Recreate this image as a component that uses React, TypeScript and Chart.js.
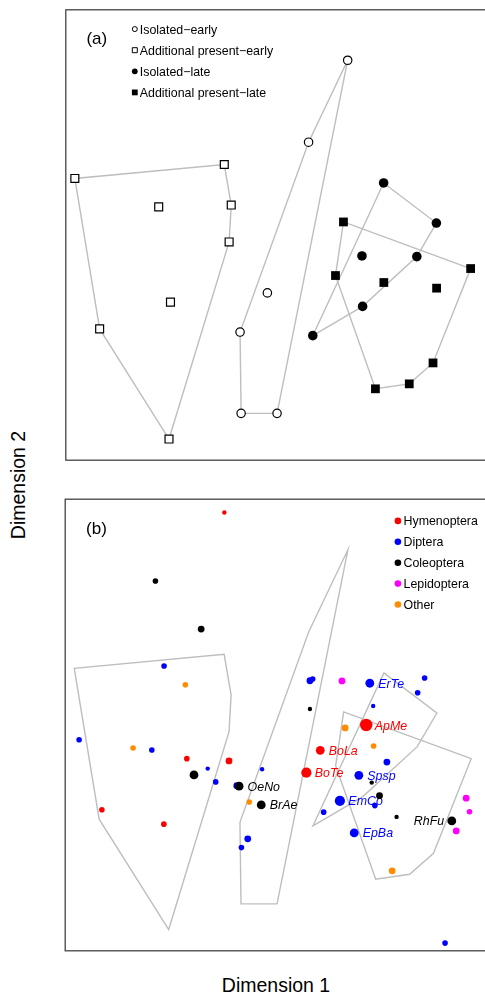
import React, { useEffect, useRef } from "react";
import { Chart, registerables } from "chart.js";

Chart.register(...registerables);

// ---------- axis range (both panels share the same ordination space) ----------
const AXIS_MIN = -1;
const AXIS_MAX = 1;

// ---------- panel (a): plant groups ----------
const groupLabels = [
  "Isolated\u2212early",
  "Additional present\u2212early",
  "Isolated\u2212late",
  "Additional present\u2212late",
];
const isolatedEarlyX = [0.341, 0.155, -0.041, -0.171, -0.166, 0.005];
const isolatedEarlyY = [0.776, 0.412, -0.257, -0.431, -0.792, -0.792];
const addEarlyX = [-0.957, -0.246, -0.213, -0.223, -0.558, -0.502, -0.839, -0.509];
const addEarlyY = [0.251, 0.313, 0.133, -0.031, 0.125, -0.298, -0.417, -0.906];
const isolatedLateX = [0.512, 0.763, 0.409, 0.67, 0.412, 0.175];
const isolatedLateY = [0.231, 0.053, -0.093, -0.096, -0.317, -0.447];
const addLateX = [0.321, 0.926, 0.283, 0.513, 0.764, 0.747, 0.634, 0.473];
const addLateY = [0.058, -0.149, -0.18, -0.211, -0.236, -0.568, -0.661, -0.683];

// ---------- panel (b): insect species by order ----------
const orderNames = ["Hymenoptera", "Diptera", "Coleoptera", "Lepidoptera", "Other"];

const hymX = [-0.245, -0.423, -0.223, -0.826, -0.532, 0.428, 0.21, 0.144];
const hymY = [0.941, -0.149, -0.159, -0.375, -0.439, 0.0, -0.112, -0.211];
const hymAbund = [1, 2, 3, 2, 2, 6, 4, 5];
const hymLabel = ["", "", "", "", "", "ApMe", "BoLa", "BoTe"];

const dipX = [-0.531, -0.934, -0.589, -0.324, -0.286, -0.186, -0.066, 0.161, 0.174, 0.445, 0.705,
  0.672, 0.461, 0.526, 0.393, 0.303, 0.469, 0.226, 0.371, -0.134, -0.164, 0.802];
const dipY = [0.261, -0.065, -0.111, -0.193, -0.252, -0.269, -0.196, 0.196, 0.204, 0.185, 0.208,
  0.143, 0.084, -0.164, -0.223, -0.336, -0.357, -0.386, -0.478, -0.504, -0.543, -0.966];
const dipAbund = [2, 2, 2, 1, 2, 3, 1, 3, 2, 4, 2, 2, 1, 3, 4, 5, 2, 2, 4, 3, 2, 2];
const dipLabel = ["", "", "", "", "", "", "", "", "", "ErTe", "", "", "", "", "Spsp", "EmCo", "", "",
  "EpBa", "", "", ""];

const colX = [-0.572, -0.355, -0.389, -0.175, -0.07, 0.161, 0.454, 0.491, 0.572, 0.834];
const colY = [0.638, 0.425, -0.221, -0.271, -0.354, 0.071, -0.255, -0.313, -0.407, -0.425];
const colAbund = [2, 3, 4, 4, 4, 1, 1, 3, 1, 4];
const colLabel = ["", "", "", "OeNo", "BrAe", "", "", "", "", "RhFu"];

const lepX = [0.313, 0.902, 0.918, 0.855];
const lepY = [0.195, -0.324, -0.384, -0.469];
const lepAbund = [3, 3, 2, 3];
const lepLabel = ["", "", "", ""];

const othX = [-0.43, -0.678, 0.328, 0.463, -0.127, 0.551];
const othY = [0.178, -0.102, -0.013, -0.093, -0.341, -0.646];
const othAbund = [2, 2, 3, 2, 2, 3];
const othLabel = ["", "", "", "", "", ""];

// ---------- styles ----------
const FONT = '"Liberation Sans", Arial, Helvetica, sans-serif';
const ORDER_COLORS = ["#FF0000", "#0000FF", "#000000", "#FF00FF", "#FF8C00"];
const RADIUS_BY_ABUND = [0, 2.2, 2.8, 3.4, 4.4, 5.1, 6.2];
const LEFT_LABELS = new Set(["RhFu"]);
const HULL_COLOR = "#BEBEBE";
const FRAME_COLOR = "#444444";

const PAD = 6;
const PLOT_LEFT = 65;
const PLOT_W = 422;
const PLOT_H = 452;
const TOP_A = 9;
const TOP_B = 499;

type Pt = { x: number; y: number };

function zip(xs: number[], ys: number[]): Pt[] {
  return xs.map((x, i) => ({ x, y: ys[i] }));
}

function convexHull(points: Pt[]): Pt[] {
  const p = [...points].sort((a, b) => (a.x === b.x ? a.y - b.y : a.x - b.x));
  const cross = (o: Pt, a: Pt, b: Pt) => (a.x - o.x) * (b.y - o.y) - (a.y - o.y) * (b.x - o.x);
  const lower: Pt[] = [];
  for (const q of p) {
    while (lower.length >= 2 && cross(lower[lower.length - 2], lower[lower.length - 1], q) <= 0) lower.pop();
    lower.push(q);
  }
  const upper: Pt[] = [];
  for (let i = p.length - 1; i >= 0; i--) {
    const q = p[i];
    while (upper.length >= 2 && cross(upper[upper.length - 2], upper[upper.length - 1], q) <= 0) upper.pop();
    upper.push(q);
  }
  upper.pop();
  lower.pop();
  return lower.concat(upper);
}

const groupPoints: Pt[][] = [
  zip(isolatedEarlyX, isolatedEarlyY),
  zip(addEarlyX, addEarlyY),
  zip(isolatedLateX, isolatedLateY),
  zip(addLateX, addLateY),
];

const orderData = [
  { x: hymX, y: hymY, a: hymAbund, l: hymLabel },
  { x: dipX, y: dipY, a: dipAbund, l: dipLabel },
  { x: colX, y: colY, a: colAbund, l: colLabel },
  { x: lepX, y: lepY, a: lepAbund, l: lepLabel },
  { x: othX, y: othY, a: othAbund, l: othLabel },
];

const framePlugin = {
  id: "frame",
  afterDraw(chart: any) {
    const { ctx, chartArea: a } = chart;
    ctx.save();
    ctx.strokeStyle = FRAME_COLOR;
    ctx.lineWidth = 1.3;
    ctx.strokeRect(a.left, a.top, a.right - a.left, a.bottom - a.top);
    ctx.restore();
  },
};

const hullPlugin = {
  id: "hulls",
  beforeDatasetsDraw(chart: any) {
    const { ctx } = chart;
    const sx = chart.scales.x;
    const sy = chart.scales.y;
    ctx.save();
    ctx.strokeStyle = HULL_COLOR;
    ctx.lineWidth = 1.4;
    ctx.lineJoin = "miter";
    for (const pts of groupPoints) {
      const h = convexHull(pts);
      ctx.beginPath();
      h.forEach((p, i) => {
        const px = sx.getPixelForValue(p.x);
        const py = sy.getPixelForValue(p.y);
        if (i === 0) ctx.moveTo(px, py);
        else ctx.lineTo(px, py);
      });
      ctx.closePath();
      ctx.stroke();
    }
    ctx.restore();
  },
};

function tagPlugin(tag: string, dx: number, baseline: number) {
  return {
    id: "tag",
    afterDraw(chart: any) {
      const { ctx, chartArea: a } = chart;
      ctx.save();
      ctx.font = `17px ${FONT}`;
      ctx.fillStyle = "#000";
      ctx.textAlign = "center";
      ctx.textBaseline = "alphabetic";
      ctx.fillText(tag, a.left + dx, a.top + baseline);
      ctx.restore();
    },
  };
}

const legendAPlugin = {
  id: "legendA",
  afterDraw(chart: any) {
    const { ctx, chartArea: a } = chart;
    ctx.save();
    ctx.font = `12.4px ${FONT}`;
    ctx.textBaseline = "alphabetic";
    ctx.textAlign = "left";
    groupLabels.forEach((t, i) => {
      const cx = a.left + 69;
      const cy = a.top + 19.3 + i * 21.1;
      ctx.lineWidth = 1;
      ctx.strokeStyle = "#000";
      ctx.fillStyle = i < 2 ? "#fff" : "#000";
      ctx.beginPath();
      if (i === 0) ctx.arc(cx, cy, 2.5, 0, Math.PI * 2);
      else if (i === 1) ctx.rect(cx - 2.5, cy - 2.5, 5, 5);
      else if (i === 2) ctx.arc(cx, cy, 2.9, 0, Math.PI * 2);
      else ctx.rect(cx - 2.9, cy - 2.9, 5.8, 5.8);
      ctx.fill();
      if (i < 2) ctx.stroke();
      ctx.fillStyle = "#000";
      ctx.fillText(t, a.left + 74, cy + 4.5);
    });
    ctx.restore();
  },
};

const legendBPlugin = {
  id: "legendB",
  afterDraw(chart: any) {
    const { ctx, chartArea: a } = chart;
    ctx.save();
    ctx.font = `12.4px ${FONT}`;
    ctx.textBaseline = "alphabetic";
    ctx.textAlign = "left";
    orderNames.forEach((t, i) => {
      const cx = a.left + 332.7;
      const cy = a.top + 21.7 + i * 20.9;
      ctx.fillStyle = ORDER_COLORS[i];
      ctx.beginPath();
      ctx.arc(cx, cy, 3.3, 0, Math.PI * 2);
      ctx.fill();
      ctx.fillStyle = "#000";
      ctx.fillText(t, a.left + 338.3, cy + 4.5);
    });
    ctx.restore();
  },
};

const speciesLabelPlugin = {
  id: "speciesLabels",
  afterDatasetDraw(chart: any, args: any) {
    const idx = args.index;
    const d = orderData[idx];
    if (!d) return;
    const { ctx } = chart;
    const sx = chart.scales.x;
    const sy = chart.scales.y;
    ctx.save();
    ctx.font = `italic 12.4px ${FONT}`;
    ctx.fillStyle = ORDER_COLORS[idx];
    ctx.textBaseline = "alphabetic";
    d.l.forEach((lab, i) => {
      if (!lab) return;
      const px = sx.getPixelForValue(d.x[i]);
      const py = sy.getPixelForValue(d.y[i]);
      if (LEFT_LABELS.has(lab)) {
        ctx.textAlign = "right";
        ctx.fillText(lab, px - 7.7, py + 4.5);
      } else {
        ctx.textAlign = "left";
        ctx.fillText(lab, px + 8.5, py + 4.5);
      }
    });
    ctx.restore();
  },
};

function baseOptions(): any {
  return {
    animation: false,
    responsive: false,
    maintainAspectRatio: false,
    devicePixelRatio: 1,
    layout: { padding: { left: PAD, right: PAD, top: PAD, bottom: PAD } },
    scales: {
      x: { type: "linear", min: AXIS_MIN, max: AXIS_MAX, display: false },
      y: { type: "linear", min: AXIS_MIN, max: AXIS_MAX, display: false },
    },
    plugins: { legend: { display: false }, tooltip: { enabled: false } },
  };
}

export default function App() {
  const refA = useRef<HTMLCanvasElement | null>(null);
  const refB = useRef<HTMLCanvasElement | null>(null);

  useEffect(() => {
    const groupStyles = [
      { style: "circle", r: 4.2, fill: "#ffffff", bw: 1.2 },
      { style: "rect", r: 5.6, fill: "#ffffff", bw: 1.2 },
      { style: "circle", r: 4.8, fill: "#000000", bw: 0 },
      { style: "rect", r: 6.2, fill: "#000000", bw: 0 },
    ];
    const chartA = new Chart(refA.current!, {
      type: "scatter",
      data: {
        datasets: groupPoints.map((pts, i) => ({
          label: groupLabels[i],
          data: pts,
          pointStyle: groupStyles[i].style,
          pointRadius: groupStyles[i].r,
          pointBackgroundColor: groupStyles[i].fill,
          pointBorderColor: "#000000",
          pointBorderWidth: groupStyles[i].bw,
          showLine: false,
          clip: false,
        })),
      } as any,
      options: baseOptions(),
      plugins: [hullPlugin, framePlugin, legendAPlugin, tagPlugin("(a)", 31, 33.7)],
    });

    const chartB = new Chart(refB.current!, {
      type: "scatter",
      data: {
        datasets: orderData.map((d, i) => ({
          label: orderNames[i],
          data: zip(d.x, d.y),
          pointStyle: "circle",
          pointRadius: d.a.map((v) => RADIUS_BY_ABUND[v]),
          pointBackgroundColor: ORDER_COLORS[i],
          pointBorderWidth: 0,
          pointBorderColor: ORDER_COLORS[i],
          showLine: false,
          clip: false,
          order: orderData.length - 1 - i,
        })),
      } as any,
      options: baseOptions(),
      plugins: [hullPlugin, speciesLabelPlugin, framePlugin, legendBPlugin, tagPlugin("(b)", 31.3, 34.6)],
    });

    return () => {
      chartA.destroy();
      chartB.destroy();
    };
  }, []);

  const cw = PLOT_W + 2 * PAD;
  const ch = PLOT_H + 2 * PAD;

  return (
    <div
      style={{
        position: "absolute",
        left: 0,
        top: 0,
        width: 485,
        height: 996,
        overflow: "hidden",
        background: "#ffffff",
        fontFamily: FONT,
      }}
    >
      <canvas
        ref={refA}
        width={cw}
        height={ch}
        style={{ position: "absolute", left: PLOT_LEFT - PAD, top: TOP_A - PAD, width: cw, height: ch }}
      />
      <canvas
        ref={refB}
        width={cw}
        height={ch}
        style={{ position: "absolute", left: PLOT_LEFT - PAD, top: TOP_B - PAD, width: cw, height: ch }}
      />
      <div
        style={{
          position: "absolute",
          left: 19.3,
          top: 485.2,
          transform: "translate(-50%, -50%) rotate(-90deg)",
          fontSize: "19.5px",
          lineHeight: "19.5px",
          whiteSpace: "nowrap",
          color: "#000",
        }}
      >
        Dimension 2
      </div>
      <div
        style={{
          position: "absolute",
          left: 276,
          top: 985.9,
          transform: "translate(-50%, -50%)",
          fontSize: "19.5px",
          lineHeight: "19.5px",
          whiteSpace: "nowrap",
          color: "#000",
        }}
      >
        Dimension 1
      </div>
    </div>
  );
}
